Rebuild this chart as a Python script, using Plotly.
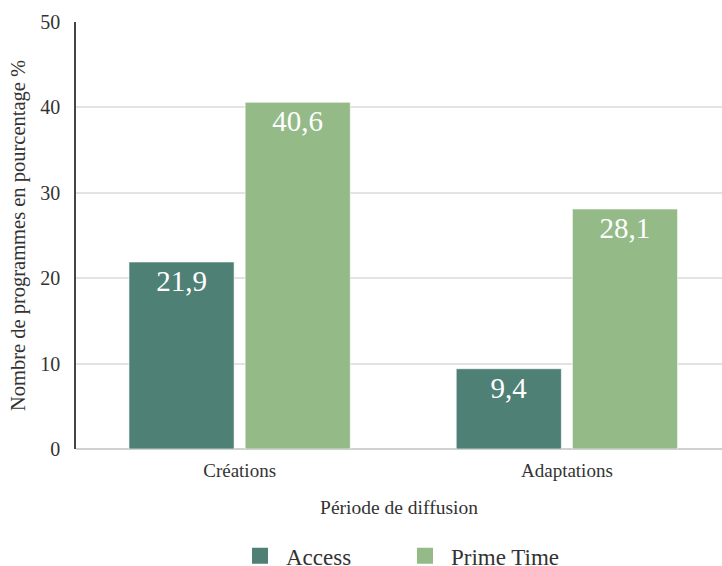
import plotly.graph_objects as go

categories = ["Créations", "Adaptations"]
access = [21.9, 9.4]
prime_time = [40.6, 28.1]
access_labels = ["21,9", "9,4"]
prime_labels = ["40,6", "28,1"]
y_ticks = [0, 10, 20, 30, 40, 50]
series_names = ["Access", "Prime Time"]
series_colors = ["#4f8076", "#94ba88"]

FONT = "Liberation Serif"
TXT = "#333333"

fig = go.Figure()
for name, vals, labels, col in zip(series_names, [access, prime_time], [access_labels, prime_labels], series_colors):
    fig.add_trace(go.Bar(
        name=name, x=categories, y=vals, text=labels, showlegend=False,
        marker=dict(color=col, line=dict(color="rgba(255,255,255,0.6)", width=1)),
        textposition="inside", insidetextanchor="end", textangle=0,
        textfont=dict(family=FONT, size=29, color="white"),
        hoverinfo="skip",
    ))
# legend entries with larger square swatches
for name, col in zip(series_names, series_colors):
    fig.add_trace(go.Scatter(
        name=name, x=[None], y=[None], mode="markers",
        marker=dict(symbol="square", size=22, color=col), showlegend=True,
    ))

fig.update_layout(
    width=722, height=566,
    margin=dict(l=76, r=0, t=22, b=117, autoexpand=False),
    paper_bgcolor="white", plot_bgcolor="white",
    barmode="group", bargap=0.29, bargroupgap=0.095,
    font=dict(family=FONT, size=19, color=TXT),
    showlegend=True,
    legend=dict(orientation="h", x=0.5, xanchor="center", y=-0.2, yanchor="top",
                font=dict(family=FONT, size=23, color=TXT), itemwidth=42,
                entrywidth=108, traceorder="normal", itemclick=False),
    uniformtext=dict(minsize=10, mode="show"),
)
fig.update_xaxes(
    range=[-0.5, 1.474], showgrid=False, showline=False, ticks="", automargin=False,
    ticklabelstandoff=8,
    tickfont=dict(family=FONT, size=19, color=TXT),
    title=dict(text="Période de diffusion", font=dict(family=FONT, size=19.5, color=TXT), standoff=20),
)
fig.update_yaxes(
    range=[0, 50], tickvals=y_ticks, showgrid=True, gridcolor="#e3e3e3", gridwidth=1.5,
    showline=True, linecolor="#444444", linewidth=1.5, zeroline=True, zerolinecolor="#d0d0d0",
    ticks="", ticklabelstandoff=10, automargin=False,
    tickfont=dict(family=FONT, size=20, color=TXT),
    title=dict(text="Nombre de programmes en pourcentage %", font=dict(family=FONT, size=20.5, color=TXT), standoff=9),
)

fig.write_html("out.html", config={"displayModeBar": False},
               post_script="document.body.style.margin='0';document.body.style.padding='0';")
